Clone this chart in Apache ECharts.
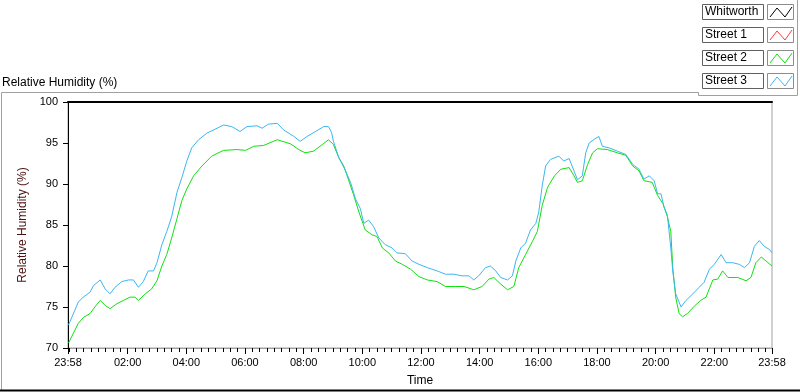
<!DOCTYPE html>
<html>
<head>
<meta charset="utf-8">
<script src="https://cdn.jsdelivr.net/npm/echarts@6/dist/echarts.min.js"></script>
<style>
html,body{margin:0;padding:0;background:#fff}
#chart{width:800px;height:392px}
</style>
</head>
<body>
<div id="chart"></div>
<script>
// minutes since 23:58 (start of record) -> value
var street2Time = [
	1,11,21,31,45,55,66,76,86,100,
	113,127,137,144,158,171,182,192,202,212,
	223,233,243,257,274,294,318,346,363,380,
	400,428,455,472,485,502,520,533,543,554,
	564,571,584,595,608,622,632,643,656,670,
	684,701,718,735,755,772,793,810,830,847,
	861,871,885,899,912,922,936,950,960,970,
	981,995,1008,1025,1035,1042,1052,1063,1073,1083,
	1103,1124,1141,1155,1168,1178,1195,1206,1217,1226,
	1233,1237,1243,1250,1257,1267,1281,1294,1305,1319,
	1329,1339,1350,1370,1387,1397,1407,1418,1428,1440
];
var street2 = [
	70.6,71.8,73.0,73.7,74.2,75.0,75.8,75.2,74.8,75.4,
	75.8,76.2,76.2,75.8,76.6,77.2,78.2,80.0,81.4,83.4,
	85.8,88.0,89.4,91.0,92.2,93.4,94.1,94.2,94.1,94.6,
	94.7,95.4,94.9,94.2,93.8,94.0,94.8,95.4,94.8,93.2,
	92.2,91.0,88.7,86.6,84.4,83.8,83.6,82.2,81.6,80.6,
	80.2,79.6,78.7,78.3,78.1,77.5,77.5,77.5,77.1,77.5,
	78.4,78.6,77.8,77.1,77.5,79.8,81.4,83.0,84.2,87.4,
	89.6,91.0,91.8,92.0,91.0,90.2,90.4,92.4,93.8,94.3,
	94.2,93.8,93.5,92.2,91.6,90.4,90.2,88.6,87.6,86.0,
	84.2,79.8,76.2,74.2,73.8,74.2,75.1,75.8,76.2,78.3,
	78.4,79.4,78.6,78.6,78.2,78.6,80.4,81.1,80.6,80.0
];
var street3Time = [
	1,14,21,31,45,52,66,76,86,96,
	110,124,134,144,154,164,175,182,192,202,
	212,223,233,243,253,267,284,305,318,335,
	352,366,387,397,410,428,441,462,475,489,
	509,523,533,539,543,554,567,578,588,598,
	605,615,625,636,649,663,673,690,704,718,
	735,755,772,789,806,820,830,840,854,864,
	875,885,899,909,916,926,936,946,957,963,
	970,977,987,1004,1014,1025,1035,1042,1052,1059,
	1066,1080,1086,1093,1107,1124,1141,1155,1168,1178,
	1189,1199,1206,1213,1219,1226,1233,1237,1243,1254,
	1264,1278,1291,1301,1312,1322,1336,1346,1360,1373,
	1384,1394,1404,1414,1424,1435,1440
];
var street3 = [
	72.8,74.6,75.6,76.2,76.8,77.6,78.3,77.2,76.6,77.4,
	78.1,78.3,78.3,77.4,78.1,79.4,79.4,80.4,82.6,84.2,
	86.0,89.0,90.8,92.8,94.4,95.4,96.2,96.8,97.2,97.0,
	96.4,97.0,97.1,96.8,97.3,97.4,96.6,95.8,95.2,95.8,
	96.5,97.0,97.0,96.3,95.2,93.2,91.7,90.2,88.2,87.0,
	85.2,85.6,84.8,83.4,82.6,82.2,81.6,81.5,80.6,80.2,
	79.8,79.4,79.0,79.0,78.8,78.8,78.3,78.8,79.8,80.0,
	79.4,78.6,78.3,78.8,80.6,82.2,82.8,84.4,85.2,86.6,
	89.8,92.2,93.0,93.4,92.8,93.1,91.6,90.5,91.0,93.8,
	95.0,95.6,95.8,94.6,94.4,94.0,93.6,92.4,91.8,90.6,
	91.0,90.4,88.8,88.8,87.2,86.2,82.2,79.4,76.6,75.0,
	75.8,76.6,77.4,78.0,79.6,80.2,81.4,80.4,80.4,80.2,
	79.8,80.4,82.4,83.1,82.4,82.0,81.6
];
var seriesNames = ['Whitworth', 'Street 1', 'Street 2', 'Street 3'];
var seriesColors = ['#000000', '#ff3b3b', '#10e010', '#3cb6f2'];
// major ticks: 23:58, then every two hours, then 23:58
var majorTicks = [0,122,242,362,482,602,722,842,962,1082,1202,1322,1440];
var startClock = 23*60 + 58;

var minorTicks = [];
for (var m = 2; m <= 1440; m += 15) minorTicks.push(m);

function pairs(t, v) {
	var out = [];
	for (var i = 0; i < t.length; i++) out.push([t[i], v[i]]);
	return out;
}
function clock(v) {
	var c = (v + startClock) % 1440;
	var h = Math.floor(c / 60), mm = c % 60;
	return (h < 10 ? '0' : '') + h + ':' + (mm < 10 ? '0' : '') + mm;
}

var font = 'Liberation Sans';
var myChart = echarts.init(document.getElementById('chart'));

// legend drawn as LabVIEW-style boxes
var legendItems = [];
for (var i = 0; i < seriesNames.length; i++) {
	var y0 = 4 + i * 23;
	legendItems.push({type: 'rect', shape: {x: 702.5, y: y0 + 0.5, width: 61, height: 15},
		style: {fill: '#fff', stroke: '#606060', lineWidth: 1}});
	legendItems.push({type: 'text', x: 705, y: y0 + 8,
		style: {text: seriesNames[i], fill: '#000', font: '12px ' + font, textVerticalAlign: 'middle'}});
	legendItems.push({type: 'rect', shape: {x: 767.5, y: y0 + 0.5, width: 26, height: 15},
		style: {fill: '#fff', stroke: '#8c8c8c', lineWidth: 1}});
	legendItems.push({type: 'polyline', shape: {points: [[770, y0 + 13], [777, y0 + 4], [785, y0 + 13], [792, y0 + 3]]},
		style: {stroke: seriesColors[i], lineWidth: 1, fill: null}});
}

var option = {
	backgroundColor: '#fff',
	animation: false,
	title: {
		text: 'Relative Humidity (%)',
		left: 2, top: 77, padding: 0,
		textStyle: {color: '#000', fontSize: 12, fontWeight: 'normal', fontFamily: font}
	},
	grid: {
		left: 68, right: 28, top: 102, bottom: 40,
		show: true, borderColor: '#a0a0a0', borderWidth: 1
	},
	xAxis: [
		{
			type: 'value', min: 0, max: 1440, position: 'bottom',
			name: 'Time', nameLocation: 'middle', nameGap: 27,
			nameTextStyle: {color: '#000', fontSize: 12, fontFamily: font},
			axisLine: {lineStyle: {color: '#a0a0a0', width: 1}},
			axisTick: {length: 6, customValues: majorTicks, lineStyle: {color: '#000'}},
			axisLabel: {customValues: majorTicks, color: '#000', fontSize: 11, fontFamily: font, margin: 9,
				formatter: function (v) { return clock(v); }},
			splitLine: {show: false}
		},
		{
			type: 'value', min: 0, max: 1440, position: 'bottom',
			axisLine: {show: false},
			axisTick: {length: 4, customValues: minorTicks, lineStyle: {color: '#000'}},
			axisLabel: {show: false},
			splitLine: {show: false}
		},
		{
			type: 'value', min: 0, max: 1440, position: 'top',
			axisLine: {lineStyle: {color: '#000', width: 2}},
			axisTick: {show: false}, axisLabel: {show: false}, splitLine: {show: false}
		}
	],
	yAxis: {
		type: 'value', min: 70, max: 100, interval: 5,
		name: 'Relative Humidity (%)', nameLocation: 'middle', nameGap: 30,
		nameTextStyle: {color: '#4a1010', fontSize: 12, fontFamily: font},
		axisLine: {show: true, lineStyle: {color: '#000', width: 1}},
		axisTick: {show: true, length: 5, lineStyle: {color: '#000'}},
		axisLabel: {color: '#000', fontSize: 11, fontFamily: font, margin: 10},
		splitLine: {show: false}
	},
	series: [
		{name: seriesNames[0], type: 'line', data: [], showSymbol: false},
		{name: seriesNames[1], type: 'line', data: [], showSymbol: false},
		{name: seriesNames[2], type: 'line', data: pairs(street2Time, street2), showSymbol: false,
			lineStyle: {color: seriesColors[2], width: 1}, itemStyle: {color: seriesColors[2]}},
		{name: seriesNames[3], type: 'line', data: pairs(street3Time, street3), showSymbol: false,
			lineStyle: {color: seriesColors[3], width: 1}, itemStyle: {color: seriesColors[3]}}
	],
	graphic: [
		// outer frame
		{type: 'polyline', shape: {points: [[1.5, 391], [1.5, 92.5], [698.5, 92.5], [698.5, 95.5], [797.5, 95.5], [797.5, 0]]},
			style: {stroke: '#a0a0a0', lineWidth: 1, fill: null}},
		{type: 'line', shape: {x1: 0, y1: 390.5, x2: 800, y2: 390.5}, style: {stroke: '#000', lineWidth: 2}},
		{type: 'group', children: legendItems}
	]
};
myChart.setOption(option);
</script>
</body>
</html>
